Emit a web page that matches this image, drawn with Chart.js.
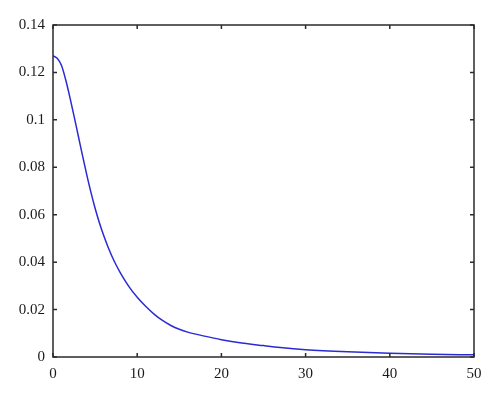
<!DOCTYPE html>
<html>
<head>
<meta charset="utf-8">
<script src="https://cdn.jsdelivr.net/npm/chart.js@4.4.1/dist/chart.umd.min.js"></script>
<style>
  html, body { margin: 0; padding: 0; background: #ffffff; }
  #wrap { width: 500px; height: 400px; }
</style>
</head>
<body>
<div id="wrap"><canvas id="myLineChart"></canvas></div>
<script>
// curve
var xs = [0, 0.5, 1, 1.5, 2, 2.5, 3, 3.5, 4, 4.5, 5, 5.5, 6, 6.5, 7, 7.5, 8, 9, 10,
  11, 12, 13, 14, 15, 16, 18, 20, 22, 25, 27, 30, 35, 40, 45, 50];
var ys = [0.127, 0.126, 0.123, 0.117, 0.1096, 0.1016, 0.0933, 0.085, 0.077, 0.0695,
  0.0627, 0.0567, 0.0514, 0.0467, 0.0425, 0.0388, 0.0355, 0.0298, 0.0252,
  0.0214, 0.0181, 0.0154, 0.0133, 0.0117, 0.0105, 0.0088, 0.0073, 0.0061, 0.0048,
  0.004, 0.0031, 0.0022, 0.0016, 0.0012, 0.0009];
var xTicks = [0, 10, 20, 30, 40, 50];
var yTicks = [0, 0.02, 0.04, 0.06, 0.08, 0.1, 0.12, 0.14];

var points = [];
for (var i = 0; i < xs.length; i++) {
  points.push({ x: xs[i], y: ys[i] });
}

// box round the plot with inward ticks on all four sides
var frame = {
  id: 'frame',
  afterDatasetsDraw: function (chart) {
    var c = chart.ctx, a = chart.chartArea;
    var sx = chart.scales.x, sy = chart.scales.y;
    var len = 4;
    c.save();
    c.strokeStyle = '#2b2b2b';
    c.lineWidth = 1.5;
    c.strokeRect(a.left, a.top, a.right - a.left, a.bottom - a.top);
    c.beginPath();
    xTicks.forEach(function (v) {
      var px = sx.getPixelForValue(v);
      c.moveTo(px, a.bottom); c.lineTo(px, a.bottom - len);
      c.moveTo(px, a.top); c.lineTo(px, a.top + len);
    });
    yTicks.forEach(function (v) {
      var py = sy.getPixelForValue(v);
      c.moveTo(a.left, py); c.lineTo(a.left + len, py);
      c.moveTo(a.right, py); c.lineTo(a.right - len, py);
    });
    c.stroke();
    c.restore();
  }
};

var ctx = document.getElementById('myLineChart');
var myChart = new Chart(ctx, {
  type: 'line',
  data: {
    datasets: [{
      data: points,
      borderColor: '#2b2bd4',
      borderWidth: 1.5,
      pointRadius: 0,
      fill: false,
      cubicInterpolationMode: 'monotone'
    }]
  },
  options: {
    responsive: true,
    maintainAspectRatio: false,
    animation: false,
    layout: { padding: { left: 0, right: 26, top: 25, bottom: 0 } },
    plugins: { legend: { display: false }, tooltip: { enabled: false } },
    scales: {
      x: {
        type: 'linear',
        min: 0, max: 50,
        grid: { display: false, drawTicks: false },
        border: { display: false },
        afterBuildTicks: function (s) { s.ticks = xTicks.map(function (v) { return { value: v }; }); },
        afterFit: function (s) { s.height = 43; },
        ticks: {
          padding: 8,
          color: '#1a1a1a',
          font: { family: 'Liberation Serif', size: 15 },
          maxRotation: 0
        }
      },
      y: {
        min: 0, max: 0.14,
        grid: { display: false, drawTicks: false },
        border: { display: false },
        afterBuildTicks: function (s) { s.ticks = yTicks.map(function (v) { return { value: v }; }); },
        afterFit: function (s) { s.width = 53; },
        ticks: {
          padding: 8,
          color: '#1a1a1a',
          font: { family: 'Liberation Serif', size: 15 },
          callback: function (v) { return String(Math.round(v * 100) / 100); }
        }
      }
    }
  },
  plugins: [frame]
});
</script>
</body>
</html>
